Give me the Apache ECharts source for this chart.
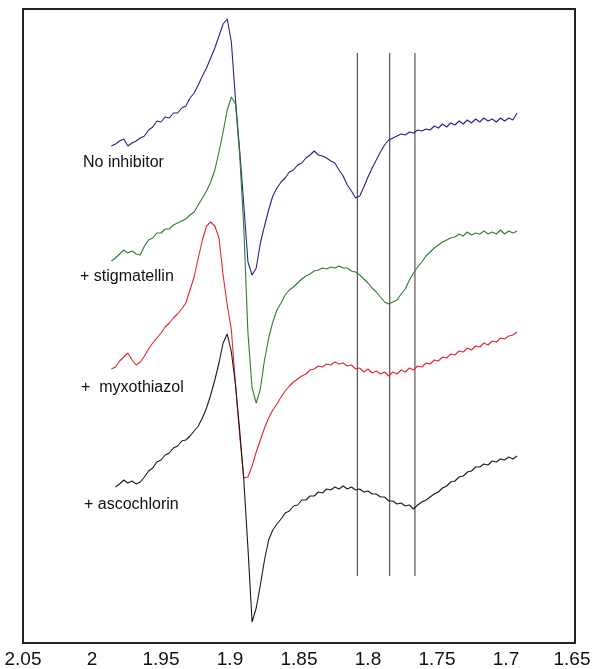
<!DOCTYPE html>
<html>
<head>
<meta charset="utf-8">
<script src="https://cdn.jsdelivr.net/npm/echarts@6/dist/echarts.min.js"></script>
<style>
html,body{margin:0;padding:0;background:#fff;}
#chart{width:592px;height:669px;}
</style>
</head>
<body>
<div id="chart"></div>
<script>
// g-values (x axis)
const gValues = [
1.986,1.983,1.980,1.977,1.974,1.971,1.968,1.965,1.962,1.959,
1.956,1.953,1.950,1.947,1.944,1.941,1.938,1.935,1.932,1.929,
1.926,1.923,1.920,1.917,1.914,1.911,1.908,1.905,1.902,1.899,
1.896,1.893,1.890,1.887,1.884,1.881,1.878,1.875,1.872,1.869,
1.866,1.863,1.860,1.857,1.854,1.851,1.848,1.845,1.842,1.839,
1.836,1.833,1.830,1.827,1.824,1.821,1.818,1.815,1.812,1.809,
1.806,1.803,1.800,1.797,1.794,1.791,1.788,1.785,1.782,1.779,
1.776,1.773,1.770,1.767,1.764,1.761,1.758,1.755,1.752,1.749,
1.746,1.743,1.740,1.737,1.734,1.731,1.728,1.725,1.722,1.719,
1.716,1.713,1.710,1.707,1.704,1.701,1.698,1.695,1.692
];
// signal offsets (arbitrary units, larger = lower on the page)
const noInhibitor = [
146,144,141,139,146,143,141,138,136,130,
127,121,122,117,118,113,113,108,106,98,
93,85,76,68,58,48,36,24,19,42,
100,150,205,262,275,268,243,226,210,196,
188,182,178,172,170,165,163,158,155,151,
155,156,158,161,163,170,176,185,191,198,
196,187,177,168,160,152,145,140,138,136,
134,135,132,133,130,131,129,130,126,128,
124,127,123,125,121,124,120,123,119,122,
118,121,119,122,118,121,118,120,113
];
const stigmatellin = [
261,258,254,250,253,251,254,255,246,240,
238,233,233,229,229,225,223,221,219,215,
212,205,198,191,182,170,152,132,110,97,
104,155,228,333,388,403,389,360,338,322,
310,303,295,290,287,283,279,276,274,271,
270,268,269,267,268,266,268,268,271,272,
275,279,283,288,292,297,302,304,302,300,
294,289,280,273,267,262,256,252,248,245,
242,240,238,237,234,236,232,235,233,234,
231,234,232,234,230,234,231,233,231
];
const myxothiazol = [
369,367,361,357,353,360,365,362,356,349,
343,338,333,327,323,318,314,309,303,290,
277,258,240,226,222,226,238,275,305,330,
385,435,478,477,466,452,440,428,418,410,
404,397,391,386,382,379,376,374,370,369,
366,367,364,365,362,364,363,366,365,369,
368,372,369,373,371,374,372,376,372,374,
370,372,368,370,366,367,363,364,360,361,
357,358,354,355,351,352,348,350,346,347,
343,345,341,342,338,339,336,335,332
];
const ascochlorin = [
null,487,484,480,483,481,484,482,477,471,
468,462,460,455,453,448,446,441,440,436,
431,426,418,408,395,380,363,343,334,352,
385,430,480,548,622,608,585,560,540,530,
524,519,513,511,506,505,500,500,496,496,
492,493,489,490,487,489,486,489,487,490,
489,492,491,494,494,497,497,501,501,504,
503,506,505,509,505,502,500,497,494,492,
488,486,482,481,477,476,472,471,467,467,
464,465,461,462,459,460,457,459,456
];
const seriesNames = ['No inhibitor', '+ stigmatellin', '+  myxothiazol', '+ ascochlorin'];
const seriesColors = ['#23238a', '#2f7d2f', '#e3262b', '#1a1a1a'];
const refLinesG = [1.8077, 1.7843, 1.766];
const refLineTop = 53;
const refLineBottom = 576;
const xTicks = { min: 1.65, max: 2.05, interval: 0.05 };
// label anchor positions (pixels)
const labelPos = [[83, 163], [80, 277], [81, 388], [84, 505]];

const allY = [noInhibitor, stigmatellin, myxothiazol, ascochlorin];
function pairs(ys) {
  const out = [];
  for (let i = 0; i < gValues.length; i++) {
    if (ys[i] !== null) out.push([gValues[i], ys[i]]);
  }
  return out;
}

const series = [];
refLinesG.forEach(function (g) {
  series.push({
    type: 'line', silent: true, showSymbol: false, animation: false,
    data: [[g, refLineTop], [g, refLineBottom]],
    lineStyle: { color: '#555', width: 1.2 }
  });
});
allY.forEach(function (ys, k) {
  series.push({
    name: seriesNames[k], type: 'line', showSymbol: false, animation: false,
    data: pairs(ys),
    lineStyle: { color: seriesColors[k], width: 1.1 }
  });
});

const chart = echarts.init(document.getElementById('chart'), null, { renderer: 'canvas' });
chart.setOption({
  backgroundColor: '#fff',
  animation: false,
  grid: { left: 23, right: 17, top: 9, bottom: 26, outerBoundsMode: 'none', containLabel: false,
    show: true, borderColor: '#222', borderWidth: 2, backgroundColor: 'transparent' },
  xAxis: {
    type: 'value', min: xTicks.min, max: xTicks.max, interval: xTicks.interval, inverse: true,
    axisLine: { show: false }, axisTick: { show: false }, splitLine: { show: false },
    axisLabel: { show: true, interval: 0, showMinLabel: true, showMaxLabel: true, margin: 7, hideOverlap: false,
      color: '#111', fontSize: 19, fontFamily: '"Liberation Sans", Arial, sans-serif',
      formatter: function (v) {
        const s = String(+v.toFixed(2));
        return Math.abs(v - xTicks.min) < 1e-6 ? '{edge|' + s + '}' : s;
      },
      rich: { edge: { fontSize: 19, color: '#111', fontFamily: '"Liberation Sans", Arial, sans-serif', padding: [0, 6, 0, 0] } }
    }
  },
  yAxis: { type: 'value', min: 9, max: 643, inverse: true, show: false, splitLine: { show: false } },
  series: series,
  graphic: seriesNames.map(function (name, k) {
    return {
      type: 'text', x: labelPos[k][0], y: labelPos[k][1],
      style: { text: name, fill: '#111', font: '16px "Liberation Sans", Arial, sans-serif', verticalAlign: 'middle', align: 'left' }
    };
  })
});
</script>
</body>
</html>
